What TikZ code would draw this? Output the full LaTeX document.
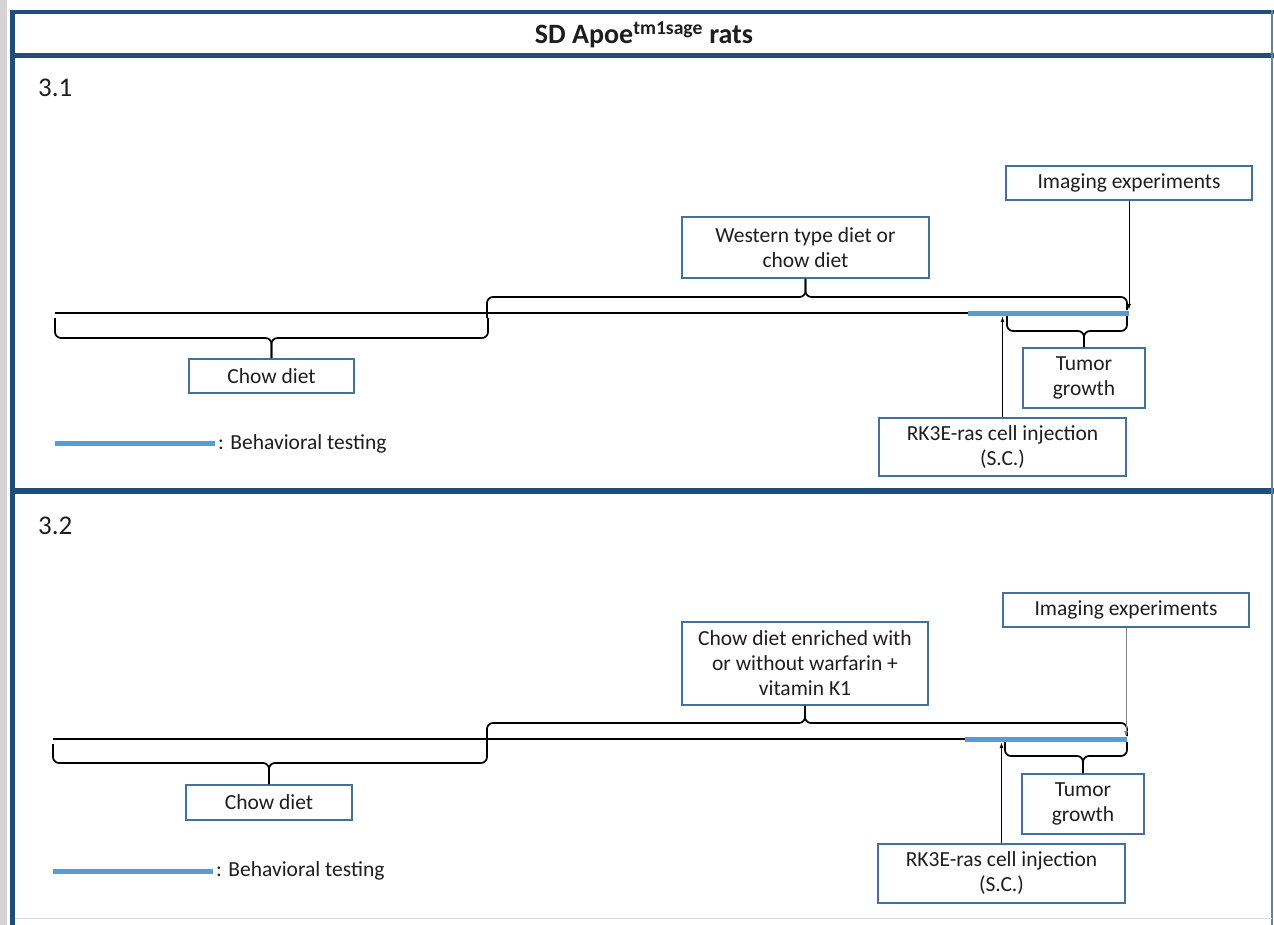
\documentclass[tikz,border=0pt]{standalone}
\usepackage{fontspec}
\setmainfont{Carlito}
\usetikzlibrary{arrows.meta}
\definecolor{framec}{RGB}{31,78,121}
\definecolor{boxblue}{RGB}{65,113,156}
\definecolor{behblue}{RGB}{91,155,213}
\definecolor{stripgray}{RGB}{212,212,212}
\definecolor{txt}{RGB}{30,30,30}
\newcommand\fsz[2]{\fontsize{#1}{#2}\selectfont}
\begin{document}
\begin{tikzpicture}[x=1pt,y=-1pt,
  box/.style={draw=boxblue, line width=1.8pt, fill=white, align=center, inner sep=0pt, text=txt, font=\fsz{21.5}{25}},
  tline/.style={line width=1.9pt, black},
  brace/.style={line width=1.7pt, black, rounded corners=6pt},
  behav/.style={line width=5pt, behblue},
  frameline/.style={framec},
  arr/.style={-{Latex[length=6pt,width=4pt]}},
  lbl/.style={anchor=west, inner sep=0pt, text=txt}]
\useasboundingbox (0,0) rectangle (1274,925);
\fill[white] (0,0) rectangle (1274,925);
\fill[stripgray] (0,0) rectangle (7,925);
% frame
\draw[frameline, line width=4pt] (10,12) -- (1274,12);
\draw[frameline, line width=5pt] (10,56) -- (1274,56);
\draw[frameline, line width=6pt] (10,491) -- (1274,491);
\draw[frameline, line width=5pt] (12.5,10) -- (12.5,925);
\draw[framec!70, line width=1.2pt] (1272,10) -- (1272,925);
\draw[framec!20, line width=1pt] (15,918) -- (1272,918);
\node[inner sep=0pt, text=txt, font=\fsz{28}{33}\bfseries] (title) at (644,35) {SD Apoe\textsuperscript{tm1sage} rats};

% ===== 3.1 =====
\node[lbl, font=\fsz{27}{32}] (n31) at (38,88) {3.1};
\node[box, minimum width=165, minimum height=34] (chow1) at (271.5,376) {Chow diet};
\node[box, minimum width=247, minimum height=61] (west) at (805.5,247.5) {Western type diet or\\chow diet};
\node[box, minimum width=246, minimum height=34] (img1) at (1129,183) {Imaging experiments};
\node[box, minimum width=122, minimum height=60] (tum1) at (1084,378) {Tumor\\growth};
\node[box, minimum width=247, minimum height=58] (rk1) at (1002.5,447) {RK3E-ras cell injection\\(S.C.)};
\node[lbl, font=\fsz{21.5}{25}] (leg1) at (218,444) {: Behavioral testing};
\coordinate (a1) at (55,313);
\coordinate (b1) at (1129,313);
\coordinate (c1) at (968,313);
\draw[tline] (a1) -- (b1);
\draw[behav] (c1) -- (b1);
% lower brace
\draw[brace] (55,318) -- (55,338) -- (chow1.north |- 0,338) -- (chow1.north);
\draw[brace] (488,318) -- (488,338) -- (chow1.north |- 0,338) -- (chow1.north);
% upper brace
\draw[brace] (487,318) -- (487,297) -- (west.south |- 0,297) -- (west.south);
\draw[brace] (1127,310) -- (1127,297) -- (west.south |- 0,297) -- (west.south);
% tumor brace
\draw[brace] (1007,316) -- (1007,331) -- (tum1.north |- 0,331) -- (tum1.north);
\draw[brace] (1127,316) -- (1127,331) -- (tum1.north |- 0,331) -- (tum1.north);
% arrows
\coordinate (i1) at (1129,310);
\draw[arr, line width=0.9pt] (img1.south) -- (i1);
\coordinate (r1) at (1002.5,316);
\draw[arr, line width=1.6pt] (rk1.north) -- (r1);
% legend
\coordinate (l1) at (55,443);
\draw[behav] (l1) -- (215,443);

% ===== 3.2 =====
\node[lbl, font=\fsz{27}{32}] (n32) at (38,526) {3.2};
\node[box, minimum width=166, minimum height=35] (chow2) at (269,802.5) {Chow diet};
\node[box, minimum width=246, minimum height=83] (enr) at (805,663.5) {Chow diet enriched with\\or without warfarin +\\vitamin K1};
\node[box, minimum width=246, minimum height=34] (img2) at (1126,610) {Imaging experiments};
\node[box, minimum width=122, minimum height=60] (tum2) at (1083,804) {Tumor\\growth};
\node[box, minimum width=247, minimum height=59] (rk2) at (1001.5,873.5) {RK3E-ras cell injection\\(S.C.)};
\node[lbl, font=\fsz{21.5}{25}] (leg2) at (216,871) {: Behavioral testing};
\coordinate (a2) at (53,739);
\coordinate (b2) at (1127,739);
\coordinate (c2) at (965,739);
\draw[tline] (a2) -- (b2);
\draw[behav] (c2) -- (b2);
\draw[brace] (53,744) -- (53,763) -- (chow2.north |- 0,763) -- (chow2.north);
\draw[brace] (487,744) -- (487,763) -- (chow2.north |- 0,763) -- (chow2.north);
\draw[brace] (487,744) -- (487,723) -- (enr.south |- 0,723) -- (enr.south);
\draw[brace] (1127,736) -- (1127,723) -- (enr.south |- 0,723) -- (enr.south);
\draw[brace] (1005,742) -- (1005,756) -- (tum2.north |- 0,756) -- (tum2.north);
\draw[brace] (1127,742) -- (1127,756) -- (tum2.north |- 0,756) -- (tum2.north);
\coordinate (i2) at (1126,737);
\draw[arr, line width=0.9pt, gray] (img2.south) -- (i2);
\coordinate (r2) at (1001.5,742);
\draw[arr, line width=1.6pt] (rk2.north) -- (r2);
\coordinate (l2) at (53,871);
\draw[behav] (l2) -- (213,871);
\end{tikzpicture}
\end{document}
